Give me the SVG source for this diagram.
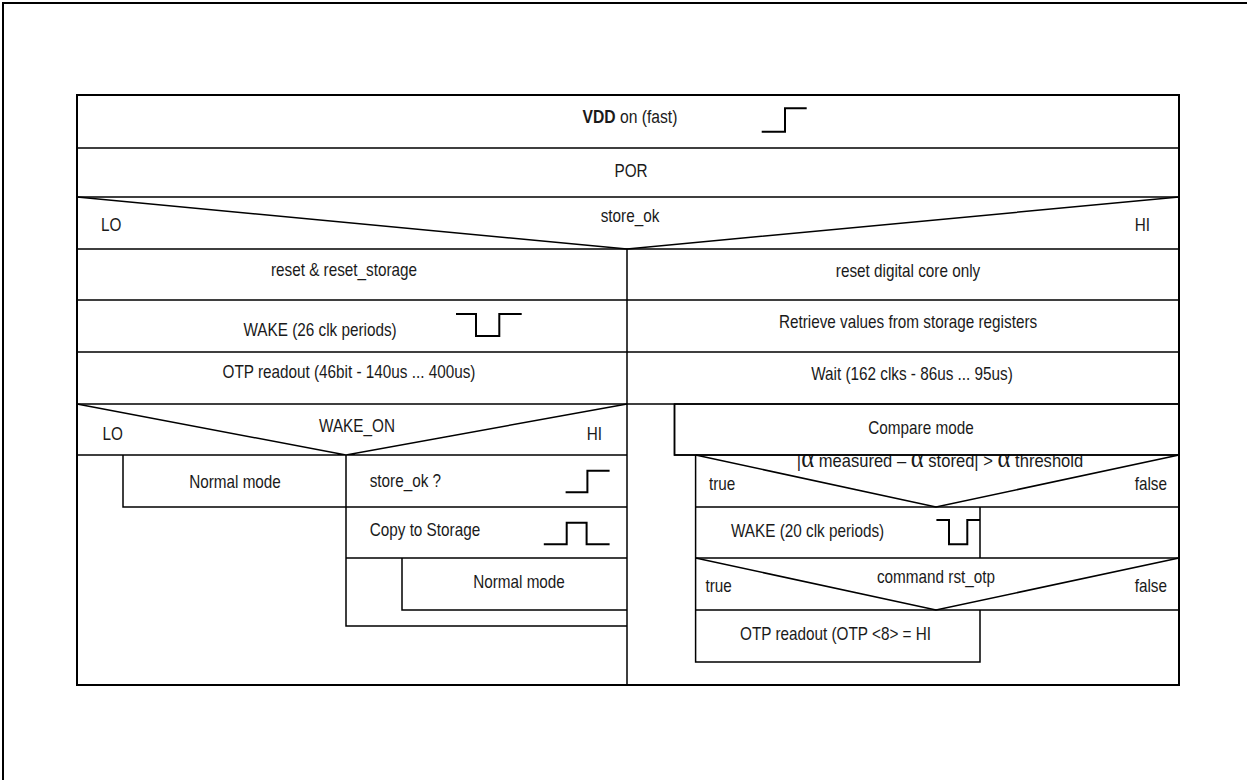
<svg xmlns="http://www.w3.org/2000/svg" width="1247" height="780" viewBox="0 0 1247 780">
<style>
.ln{stroke:#000;stroke-width:1.5;fill:none}
.frame{stroke:#000;stroke-width:2;fill:none}
.sig{stroke:#000;stroke-width:2;fill:none}
text{font-family:"Liberation Sans",Arial,sans-serif;font-size:18px;fill:#1a1a1a}
.m{text-anchor:middle}
.e{text-anchor:end}
.a{font-family:"Liberation Serif","DejaVu Serif",serif;font-size:27px}
</style>
<rect width="1247" height="780" fill="#fff"/>
<g id="frame">
<path class="frame" d="M3,780 V3 H1247"/>
</g>
<g id="table">
<rect class="frame" x="77" y="95" width="1102" height="590"/>
</g>
<g id="connectors">
<path class="ln" d="M77,148 H1179 M77,197 H1179 M77,249 H1179 M627,249 V685"/>
<path class="ln" d="M77,197 L627,249 L1179,197"/>
<path class="ln" d="M77,300 H1179 M77,352 H1179 M77,404 H1179"/>
<path class="ln" d="M77,404 L346,455 L627,404 M77,455 H627"/>
<path class="ln" d="M123,455 V507 H627 M346,455 V626 H627 M346,558 H627 M402,558 V610 H627"/>
<path class="ln" d="M674.5,404 V455 H1179"/>
<path class="ln" d="M695.6,455 V662 H980 V610 M695.6,455 L936,507 L1179,455"/>
<path class="ln" d="M695.6,507 H1179 M980,507 V558 M695.6,558 H1179 M695.6,610 H1179"/>
<path class="ln" d="M695.6,558 L936,610 L1179,558"/>
</g>
<g id="n-vdd">
<text class="m" transform="translate(630 123) scale(0.87 1)"><tspan font-weight="bold">VDD</tspan> on (fast)</text>
<path class="sig" d="M761.7,131.7 H785 V108.3 H806.7"/>
</g>
<g id="n-por"><text class="m" transform="translate(631 176.5) scale(0.85 1)">POR</text></g>
<g id="n-storeok">
<text class="m" transform="translate(630 222) scale(0.85 1)">store_ok</text>
<text transform="translate(101 230.5) scale(0.85 1)">LO</text>
<text class="e" transform="translate(1150 230.5) scale(0.85 1)">HI</text>
</g>
<g id="n-reset"><text class="m" transform="translate(344 276) scale(0.85 1)">reset &amp; reset_storage</text></g>
<g id="n-wake26">
<text transform="translate(243.5 335.5) scale(0.85 1)">WAKE (26 clk periods)</text>
<path class="sig" d="M456,314 H476 V336 H499.3 V314 H521.7"/>
</g>
<g id="n-otp"><text class="m" transform="translate(349 378) scale(0.85 1)">OTP readout (46bit - 140us ... 400us)</text></g>
<g id="n-wakeon">
<text class="m" transform="translate(357 431.5) scale(0.85 1)">WAKE_ON</text>
<text transform="translate(102.5 440) scale(0.85 1)">LO</text>
<text class="e" transform="translate(602 440) scale(0.85 1)">HI</text>
</g>
<g id="n-normal1"><text class="m" transform="translate(235 488) scale(0.85 1)">Normal mode</text></g>
<g id="n-storeokq">
<text transform="translate(369.7 486.5) scale(0.85 1)">store_ok ?</text>
<path class="sig" d="M565.6,492.3 H587.4 V470.7 H609.6"/>
</g>
<g id="n-copy">
<text transform="translate(369.7 536) scale(0.85 1)">Copy to Storage</text>
<path class="sig" d="M543.8,544.3 H566.7 V522.7 H586.6 V544.3 H609.6"/>
</g>
<g id="n-normal2"><text class="m" transform="translate(519 588) scale(0.85 1)">Normal mode</text></g>
<g id="n-resetcore"><text class="m" transform="translate(908 276.5) scale(0.85 1)">reset digital core only</text></g>
<g id="n-retrieve"><text class="m" transform="translate(908 328) scale(0.85 1)">Retrieve values from storage registers</text></g>
<g id="n-wait"><text class="m" transform="translate(912 380) scale(0.85 1)">Wait (162 clks - 86us ... 95us)</text></g>
<g id="n-alpha">
<text class="m" transform="translate(940 467) scale(0.92 1)">|<tspan class="a">α</tspan> measured – <tspan class="a">α</tspan> stored| &gt; <tspan class="a">α</tspan> threshold</text>
<text transform="translate(709 490) scale(0.85 1)">true</text>
<text class="e" transform="translate(1167 490) scale(0.85 1)">false</text>
</g>
<g id="n-compare">
<rect x="674.5" y="404" width="504.5" height="51" fill="#fff" class="ln"/>
<text class="m" transform="translate(921 434) scale(0.85 1)">Compare mode</text>
</g>
<g id="n-wake20">
<text transform="translate(731 536.5) scale(0.85 1)">WAKE (20 clk periods)</text>
<path class="sig" d="M936.4,520 H949 V544.3 H967.3 V520 H980"/>
</g>
<g id="n-rstotp">
<text class="m" transform="translate(936 583) scale(0.85 1)">command rst_otp</text>
<text transform="translate(705.5 591.5) scale(0.85 1)">true</text>
<text class="e" transform="translate(1167 591.5) scale(0.85 1)">false</text>
</g>
<g id="n-otp8"><text class="m" transform="translate(835.5 640) scale(0.85 1)">OTP readout (OTP &lt;8&gt; = HI</text></g>
</svg>
